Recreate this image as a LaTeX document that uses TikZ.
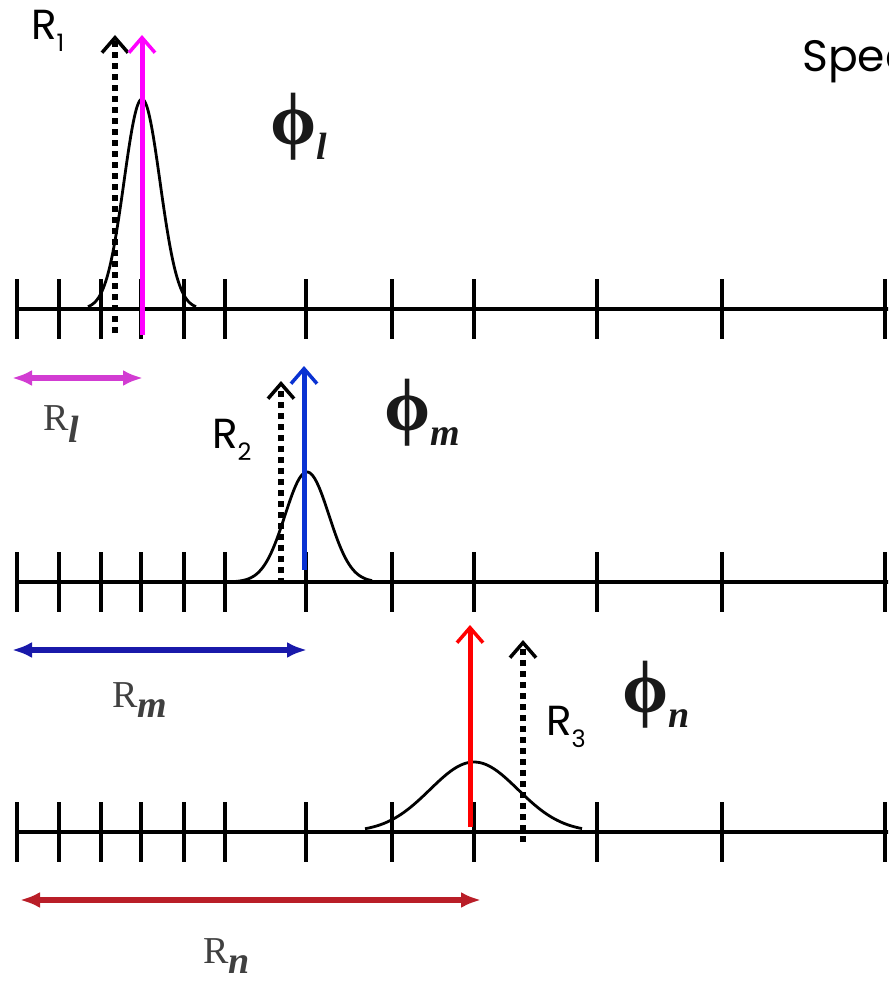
\documentclass[tikz,border=0pt]{standalone}
\usepackage{fontspec}
\setmainfont{Liberation Serif}
\newfontfamily\handfont{Poppins}
\usetikzlibrary{arrows.meta}

\definecolor{magline}{RGB}{255,0,255}
\definecolor{magrange}{RGB}{210,60,210}
\definecolor{blueline}{RGB}{10,50,210}
\definecolor{bluerange}{RGB}{25,25,170}
\definecolor{redline}{RGB}{255,0,0}
\definecolor{redrange}{RGB}{185,30,40}

\newcommand{\lowsub}[2]{\raisebox{#1}{#2}}

\begin{document}
\begin{tikzpicture}[x=1pt, y=-1pt,
		axis/.style={line width=4.5pt},
		wave/.style={line width=2.8pt, smooth, samples=80},
		shiftarrow/.style={line width=5pt, -{Straight Barb[length=15pt,width=26pt,line width=3.5pt]}},
		guess/.style={shiftarrow, black, line width=6pt, dash pattern=on 6pt off 5pt},
		spanarrow/.style={line width=6pt, {Latex[length=20pt,width=16pt]}-{Latex[length=20pt,width=16pt]}},
		lab/.style={inner sep=0pt, anchor=base west},
		hand/.style={lab, font=\handfont\fontsize{42}{42}\selectfont},
		greek/.style={lab, font=\fontsize{74}{74}\selectfont, text=black!90},
		rlab/.style={lab, font=\fontsize{38}{38}\selectfont, text=black!75}]
			\useasboundingbox (0,0) rectangle (888,981);
			\clip (0,0) rectangle (888,981);
			% three grids
			\foreach \y in {309,582,832} {
				\draw[axis] (15,\y) -- (890,\y);
				\foreach \x in {17,59,101,141,184,225,306,392,474,597,722,885}
					\draw[axis] (\x,\y-30) -- (\x,\y+30);
			}
			% wave packets
			\draw[wave, domain=88:196] plot (\x, {309 - 210*exp(-0.5*((\x-142)/18)*((\x-142)/18))});
			\draw[wave, domain=235:372] plot (\x, {582 - 110*exp(-0.5*((\x-307)/22)*((\x-307)/22))});
			\draw[wave, domain=365:582] plot (\x, {832 - 70*exp(-0.5*((\x-474)/44)*((\x-474)/44))});
			% centres
			\coordinate (g1a) at (115,333); \coordinate (g1b) at (115,35);
			\coordinate (c1a) at (142,335); \coordinate (c1b) at (142,35);
			\coordinate (g2a) at (281,584); \coordinate (g2b) at (281,381);
			\coordinate (c2a) at (304,570); \coordinate (c2b) at (304,366);
			\coordinate (c3a) at (470,827); \coordinate (c3b) at (470,625);
			\coordinate (g3a) at (523,842); \coordinate (g3b) at (523,640);
			\draw[guess] (g1a) -- (g1b);
			\draw[shiftarrow, magline] (c1a) -- (c1b);
			\draw[guess] (g2a) -- (g2b);
			\draw[shiftarrow, blueline] (c2a) -- (c2b);
			\draw[shiftarrow, redline] (c3a) -- (c3b);
			\draw[guess] (g3a) -- (g3b);
			% ranges
			\coordinate (rl0) at (12,378); \coordinate (rl1) at (143,378);
			\coordinate (rm0) at (12,650); \coordinate (rm1) at (307,650);
			\coordinate (rn0) at (20,900); \coordinate (rn1) at (481,900);
			\draw[spanarrow, magrange] (rl0) -- (rl1);
			\draw[spanarrow, bluerange] (rm0) -- (rm1);
			\draw[spanarrow, redrange] (rn0) -- (rn1);
			% labels
			\node[hand] (r1) at (31,40) {R\lowsub{-12pt}{\fontsize{24}{24}\selectfont 1}};
			\node[hand] (r2) at (212,448) {R\lowsub{-12pt}{\fontsize{24}{24}\selectfont 2}};
			\node[hand] (r3) at (546,735) {R\lowsub{-12pt}{\fontsize{24}{24}\selectfont 3}};
			\node[hand, font=\handfont\fontsize{44}{44}\selectfont] (spec) at (802,72) {Spec};
			\node[greek] (phil) at (270,145) {\textbf{ϕ}\lowsub{-15pt}{\fontsize{38}{38}\selectfont\bfseries\itshape l}};
			\node[greek] (phim) at (384,430) {\textbf{ϕ}\lowsub{-15pt}{\fontsize{38}{38}\selectfont\bfseries\itshape m}};
			\node[greek] (phin) at (622,712) {\textbf{ϕ}\lowsub{-15pt}{\fontsize{38}{38}\selectfont\bfseries\itshape n}};
			\node[rlab] (rl) at (43,430) {R\lowsub{-12pt}{\bfseries\itshape l}};
			\node[rlab] (rm) at (112,707) {R\lowsub{-10pt}{\bfseries\itshape m}};
			\node[rlab] (rn) at (203,963) {R\lowsub{-10pt}{\bfseries\itshape n}};
		\end{tikzpicture}
\end{document}
